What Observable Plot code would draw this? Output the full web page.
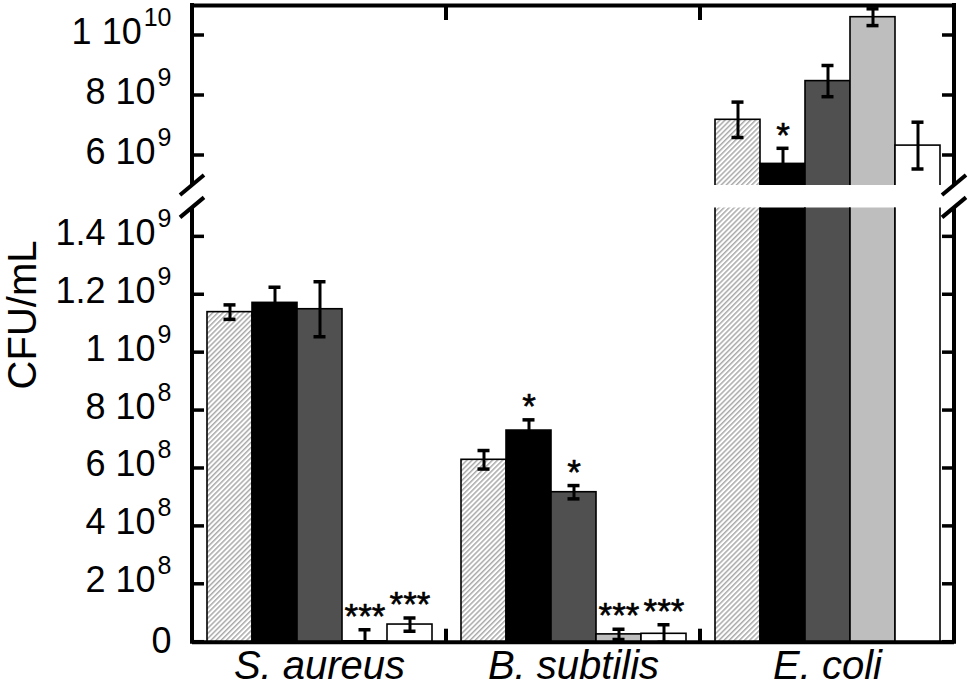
<!DOCTYPE html>
<html>
<head>
<meta charset="utf-8">
<script src="https://cdn.jsdelivr.net/npm/d3@7"></script>
<script src="https://cdn.jsdelivr.net/npm/@observablehq/plot@0.6"></script>
<style>
  html, body { margin: 0; padding: 0; background: #fff; }
  #chart { position: relative; width: 971px; height: 686px; }
  #chart svg { position: absolute; left: 0; top: 0; }
</style>
</head>
<body>
<div id="chart"></div>
<script>
// ---------------- data ----------------
const species = ["S. aureus", "B. subtilis", "E. coli"];
const series = ["s1", "s2", "s3", "s4", "s5"];
const seriesFill = ["url(#hatch)", "#000000", "#505050", "#bebebe", "#ffffff"];

const valuesSA = [1.140e9, 1.172e9, 1.150e9, 0.003e9, 0.061e9];
const errorsSA = [0.025e9, 0.054e9, 0.095e9, 0.040e9, 0.023e9];
const starsSA  = ["", "", "", "***", "***"];

const valuesBS = [0.630e9, 0.731e9, 0.518e9, 0.027e9, 0.029e9];
const errorsBS = [0.032e9, 0.037e9, 0.023e9, 0.018e9, 0.031e9];
const starsBS  = ["", "*", "*", "***", "***"];

const valuesEC = [7.19e9, 5.72e9, 8.48e9, 10.61e9, 6.33e9];
const errorsEC = [0.59e9, 0.52e9, 0.52e9, 0.28e9, 0.78e9];
const starsEC  = ["", "*", "", "", ""];

const lowerDomain = [0, 1.5e9];
const upperDomain = [5e9, 1.1e10];
const lowerTicks = [0, 2e8, 4e8, 6e8, 8e8, 1e9, 1.2e9, 1.4e9];
const lowerTickLabels = ["0", "2 10^8", "4 10^8", "6 10^8", "8 10^8", "1 10^9", "1.2 10^9", "1.4 10^9"];
const upperTicks = [6e9, 8e9, 1e10];
const upperTickLabels = ["6 10^9", "8 10^9", "1 10^10"];
const yLabel = "CFU/mL";

// ---------------- table ----------------
const groups = [
  [valuesSA, errorsSA, starsSA],
  [valuesBS, errorsBS, starsBS],
  [valuesEC, errorsEC, starsEC]
];
const rows = [];
species.forEach((sp, gi) => {
  const [vals, errs, stars] = groups[gi];
  series.forEach((s, si) => {
    rows.push({
      species: sp, series: s, fill: seriesFill[si],
      value: vals[si], lo: Math.max(0, vals[si] - errs[si]), hi: vals[si] + errs[si],
      star: stars[si]
    });
  });
});

const FONT = "'Liberation Sans', Arial, Helvetica, sans-serif";
const W = 971, H = 686;

function panel({domain, ticks, labels, marginTop, marginBottom, extra}) {
  const fmt = d => { const i = ticks.indexOf(d); return i >= 0 ? labels[i] : ""; };
  const inPanel = d => d.hi >= domain[0] && d.hi <= domain[1];
  return Plot.plot({
    width: W, height: H,
    marginLeft: 192, marginRight: 17, marginTop, marginBottom,
    style: {fontFamily: FONT, fontSize: "36px", background: "transparent", color: "black", overflow: "visible"},
    fx: {domain: species, padding: 0, axis: null, label: null},
    x: {domain: series, paddingInner: 0, paddingOuter: 0.28, axis: null},
    y: {domain, ticks, tickFormat: fmt, tickSize: 0, tickPadding: 21, label: null},
    color: {type: "identity"},
    marks: [
      Plot.barY(rows, {fx: "species", x: "series", y1: 0, y2: "value", fill: "fill", stroke: "black", strokeWidth: 1.6, clip: true}),
      Plot.ruleX(rows, {filter: inPanel, fx: "species", x: "series", y1: "lo", y2: "hi", stroke: "black", strokeWidth: 3, clip: true}),
      Plot.tickY(rows, {filter: inPanel, fx: "species", x: "series", y: "hi", stroke: "black", strokeWidth: 3.5, inset: 16.5, clip: true}),
      Plot.tickY(rows, {filter: inPanel, fx: "species", x: "series", y: "lo", stroke: "black", strokeWidth: 3.5, inset: 16.5, clip: true}),
      Plot.text(rows, {filter: d => d.star && inPanel(d), fx: "species", x: "series", y: "hi", text: "star", dy: -13, fontSize: 35, fill: "black", stroke: "black", strokeWidth: 0.6}),
      ...extra
    ]
  });
}

const lower = panel({
  domain: lowerDomain, ticks: lowerTicks, labels: lowerTickLabels,
  marginTop: 207.4, marginBottom: 44.3,
  extra: [
    Plot.ruleY([lowerDomain[0]], {stroke: "black", strokeWidth: 4}),
    Plot.text(species, {fx: d => d, text: d => d, frameAnchor: "bottom", dy: 37, fontSize: 40, fontStyle: "italic", fill: "black"})
  ]
});
const upper = panel({
  domain: upperDomain, ticks: upperTicks, labels: upperTickLabels,
  marginTop: 5, marginBottom: H - 185,
  extra: [
    Plot.ruleY([upperDomain[1]], {stroke: "black", strokeWidth: 4})
  ]
});

const chart = document.getElementById("chart");
chart.appendChild(lower);
chart.appendChild(upper);

// hatch pattern (ids are document-wide)
function addHatch(svg, id) {
  const defs = svg.insert("defs", ":first-child");
  const pat = defs.append("pattern").attr("id", id).attr("patternUnits", "userSpaceOnUse")
    .attr("width", 3.6).attr("height", 3.6).attr("patternTransform", "rotate(45)");
  pat.append("rect").attr("width", 3.6).attr("height", 3.6).attr("fill", "white");
  pat.append("line").attr("x1", 0.8).attr("y1", 0).attr("x2", 0.8).attr("y2", 3.6)
    .attr("stroke", "#808080").attr("stroke-width", 1.0);
}
addHatch(d3.select(lower), "hatch");

function decorate(plot, ticks, isUpper) {
  const svg = d3.select(plot);
  const yS = plot.scale("y");
  const fxS = plot.scale("fx");
  const xl = fxS.range[0], xr = fxS.range[1];
  const [d0, d1] = yS.domain;
  const yB = yS.apply(d0), yT = yS.apply(d1);
  const g = svg.append("g").attr("stroke", "black").attr("fill", "none");
  for (const x of [xl, xr]) {
    g.append("line").attr("x1", x).attr("x2", x)
      .attr("y1", isUpper ? yT - 2 : yT).attr("y2", isUpper ? yB : yB + 2).attr("stroke-width", 4);
  }
  for (const t of ticks) {
    const y = yS.apply(t);
    g.append("line").attr("x1", xl).attr("x2", xl + 12).attr("y1", y).attr("y2", y).attr("stroke-width", 3.5);
    g.append("line").attr("x1", xr - 12).attr("x2", xr).attr("y1", y).attr("y2", y).attr("stroke-width", 3.5);
  }
  for (const s of species.slice(1)) {
    const x = fxS.apply(s);
    if (isUpper) g.append("line").attr("x1", x).attr("x2", x).attr("y1", yT).attr("y2", yT + 15).attr("stroke-width", 4);
    else g.append("line").attr("x1", x).attr("x2", x).attr("y1", yB).attr("y2", yB - 13).attr("stroke-width", 4);
  }
  const yb = isUpper ? yB : yT;
  for (const x of [xl, xr]) {
    g.append("line").attr("x1", x - 12).attr("y1", yb + 10).attr("x2", x + 12).attr("y2", yb - 10).attr("stroke-width", 4);
  }
  // y tick labels with superscripts
  svg.selectAll('[aria-label^="y-axis"] text').each(function () {
    const parts = this.textContent.split("^");
    const sel = d3.select(this);
    sel.attr("font-size", 36).attr("font-family", FONT).attr("text-anchor", "end");
    this.removeAttribute("y");
    if (parts.length === 2) {
      sel.text(parts[0]).attr("dy", "8px");
      sel.append("tspan").attr("font-size", 25).attr("dx", 2).attr("dy", -18).text(parts[1]);
    } else {
      sel.attr("dy", "11px");
    }
  });
}
decorate(lower, lowerTicks, false);
decorate(upper, upperTicks, true);

d3.select(lower).append("text")
  .attr("transform", "translate(36,315) rotate(-90)")
  .attr("text-anchor", "middle")
  .attr("font-size", 40)
  .attr("font-family", FONT)
  .attr("fill", "black")
  .text(yLabel);
</script>
</body>
</html>
